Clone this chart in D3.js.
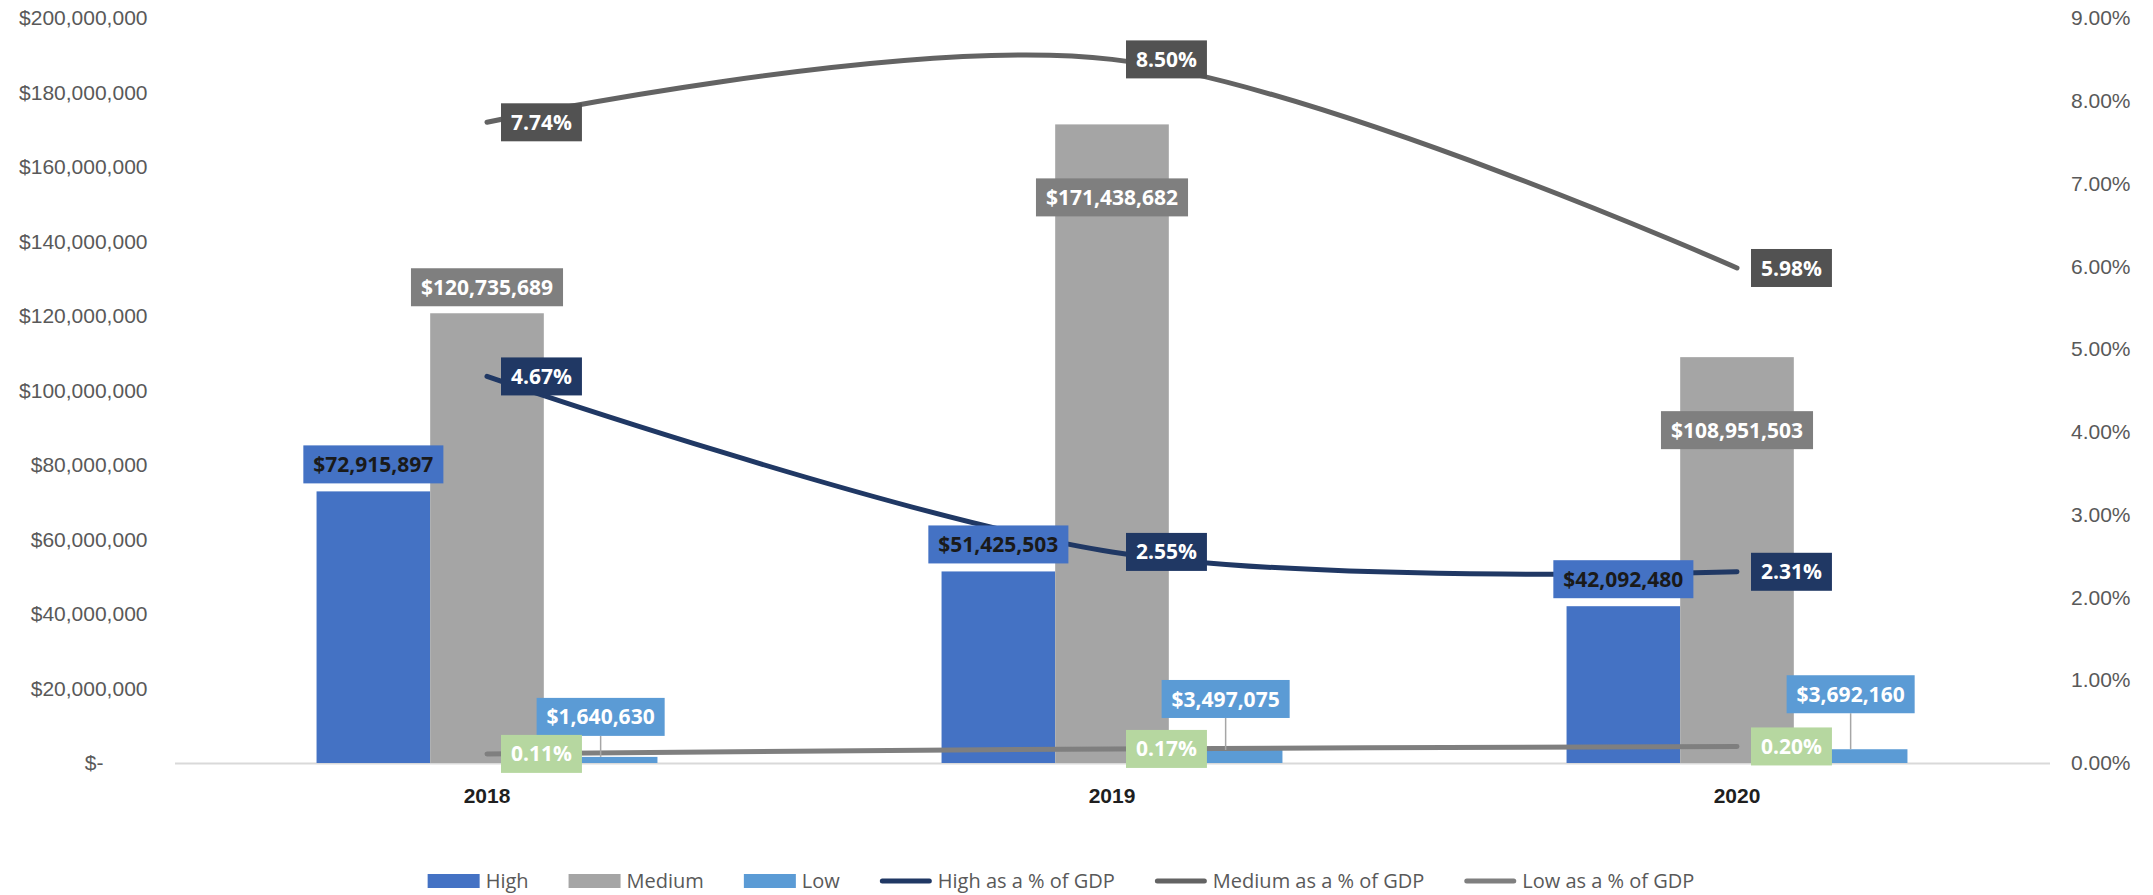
<!DOCTYPE html>
<html lang="en">
<head>
    <meta charset="UTF-8">
    <title>High / Medium / Low and % of GDP</title>
    <script src="https://d3js.org/d3.v7.min.js"></script>
    <style>
        body { margin: 0; background: #fff; }
        svg { display: block; font-family: "Open Sans", "Noto Sans", sans-serif; }
        .axis text { font-size: 21px; fill: #595959; }
        .axis.cat text { font-weight: bold; fill: #1f1f1f; }
        .lbl { font-size: 21px; font-weight: bold; }
        .legend text { font-size: 20px; fill: #595959; }
    </style>
</head>
<body>
    <svg width="2153" height="895"></svg>
    <script>
        // data
        const years = ["2018", "2019", "2020"];
        const high = [72915897, 51425503, 42092480];
        const medium = [120735689, 171438682, 108951503];
        const low = [1640630, 3497075, 3692160];
        const highPct = [0.0467, 0.0255, 0.0231];
        const mediumPct = [0.0774, 0.0850, 0.0598];
        const lowPct = [0.0011, 0.0017, 0.0020];
        const leftTicks = [0, 20e6, 40e6, 60e6, 80e6, 100e6, 120e6, 140e6, 160e6, 180e6, 200e6];
        const rightTicks = [0, 0.01, 0.02, 0.03, 0.04, 0.05, 0.06, 0.07, 0.08, 0.09];

        // label placement (layout only)
        const mediumInside = [false, true, true];
        const lowLift = [21, 32, 36];

        const svg = d3.select("svg");
        const plotLeft = 174.5, plotRight = 2049.5, plotTop = 18, plotBottom = 763;

        const x = d3.scaleBand().domain(years).range([plotLeft, plotRight]);
        const xSub = d3.scaleBand().domain(["High", "Medium", "Low"])
            .range([0, x.bandwidth()]).paddingInner(0).paddingOuter(1.25);
        const y = d3.scaleLinear().domain([0, 200e6]).range([plotBottom, plotTop]);
        const y2 = d3.scaleLinear().domain([0, 0.09]).range([plotBottom, plotTop]);

        const money = d => "$" + d3.format(",")(d);
        const pct = d3.format(".2%");

        // axes
        const gl = svg.append("g").attr("class", "axis")
            .attr("transform", `translate(${plotLeft},0)`)
            .call(d3.axisLeft(y).tickValues(leftTicks).tickSize(0).tickPadding(27)
                .tickFormat(d => d === 0 ? "$-" : money(d)));
        gl.select(".domain").remove();
        gl.selectAll(".tick text").filter(d => d === 0).attr("dx", -44);

        const gr = svg.append("g").attr("class", "axis")
            .attr("transform", `translate(${plotRight},0)`)
            .call(d3.axisRight(y2).tickValues(rightTicks).tickSize(0).tickPadding(21.5).tickFormat(pct));
        gr.select(".domain").remove();

        const gx = svg.append("g").attr("class", "axis cat")
            .attr("transform", `translate(0,${plotBottom})`)
            .call(d3.axisBottom(x).tickSize(0).tickSizeOuter(0).tickPadding(25));
        gx.select(".domain").attr("stroke", "#d9d9d9").attr("stroke-width", 2);

        // bars
        const series = [
            { key: "High", values: high, color: "#4472C4" },
            { key: "Medium", values: medium, color: "#A5A5A5" },
            { key: "Low", values: low, color: "#5B9BD5" }
        ];
        series.forEach(s => {
            svg.append("g").selectAll("rect")
                .data(s.values)
                .enter().append("rect")
                .attr("x", (d, i) => x(years[i]) + xSub(s.key))
                .attr("y", d => y(d))
                .attr("width", xSub.bandwidth())
                .attr("height", d => plotBottom - y(d))
                .attr("fill", s.color);
        });

        // lines
        const lines = [
            { key: "High as a % of GDP", values: highPct, color: "#203864", box: "#203864", text: "#fff" },
            { key: "Medium as a % of GDP", values: mediumPct, color: "#636363", box: "#525252", text: "#fff" },
            { key: "Low as a % of GDP", values: lowPct, color: "#7F7F7F", box: "#B6D7A0", text: "#fff" }
        ];
        const cx = i => x(years[i]) + x.bandwidth() / 2;
        const line = d3.line().x((d, i) => cx(i)).y(d => y2(d)).curve(d3.curveCardinal.tension(0));
        lines.forEach(l => {
            svg.append("path")
                .attr("d", line(l.values))
                .attr("fill", "none")
                .attr("stroke", l.color)
                .attr("stroke-width", 5)
                .attr("stroke-linecap", "round");
        });

        // label helper: box with text centred at (mx, my)
        const labels = svg.append("g");
        function box(mx, my, txt, fill, color, anchor) {
            const g = labels.append("g");
            const t = g.append("text").attr("class", "lbl").attr("fill", color)
                .attr("text-anchor", "middle").attr("y", my).attr("dy", "0.36em").text(txt);
            const w = t.node().getComputedTextLength() + 20, h = 38;
            const bx = anchor === "left" ? mx : mx - w / 2;
            t.attr("x", bx + w / 2);
            g.insert("rect", "text").attr("x", bx).attr("y", my - h / 2)
                .attr("width", w).attr("height", h).attr("fill", fill);
        }

        const bw = xSub.bandwidth();
        high.forEach((d, i) => {
            box(x(years[i]) + xSub("High") + bw / 2, y(d) - 8 - 19, money(d), "#4472C4", "#1a1a1a");
        });
        medium.forEach((d, i) => {
            const my = mediumInside[i] ? y(d) + 54 + 19 : y(d) - 7 - 19;
            box(x(years[i]) + xSub("Medium") + bw / 2, my, money(d), "#7F7F7F", "#fff");
        });
        low.forEach((d, i) => {
            const mx = x(years[i]) + xSub("Low") + bw / 2;
            const by = y(d) - lowLift[i];
            labels.append("line").attr("x1", mx).attr("x2", mx).attr("y1", by).attr("y2", y(d))
                .attr("stroke", "#A6A6A6").attr("stroke-width", 1.5);
            box(mx, by - 19, money(d), "#5B9BD5", "#fff");
        });
        lines.forEach(l => {
            l.values.forEach((d, i) => box(cx(i) + 14, y2(d), pct(d), l.box, l.text, "left"));
        });

        // legend
        const legendItems = series.map(s => ({ name: s.key, color: s.color, type: "rect" }))
            .concat(lines.map(l => ({ name: l.key, color: l.color, type: "line" })));
        const lg = svg.append("g").attr("class", "legend");
        let lx = 0;
        const ly = 881;
        legendItems.forEach(it => {
            const g = lg.append("g").attr("transform", `translate(${lx},0)`);
            if (it.type === "rect") {
                g.append("rect").attr("x", 0).attr("y", ly - 7).attr("width", 52).attr("height", 14).attr("fill", it.color);
            } else {
                g.append("line").attr("x1", 2.5).attr("x2", 49.5).attr("y1", ly).attr("y2", ly)
                    .attr("stroke", it.color).attr("stroke-width", 5).attr("stroke-linecap", "round");
            }
            const t = g.append("text").attr("x", 58).attr("y", ly).attr("dy", "0.36em").text(it.name);
            lx += 58 + t.node().getComputedTextLength() + 40;
        });
        const total = lx - 40;
        lg.attr("transform", `translate(${1061 - total / 2},0)`);
    </script>
</body>
</html>
